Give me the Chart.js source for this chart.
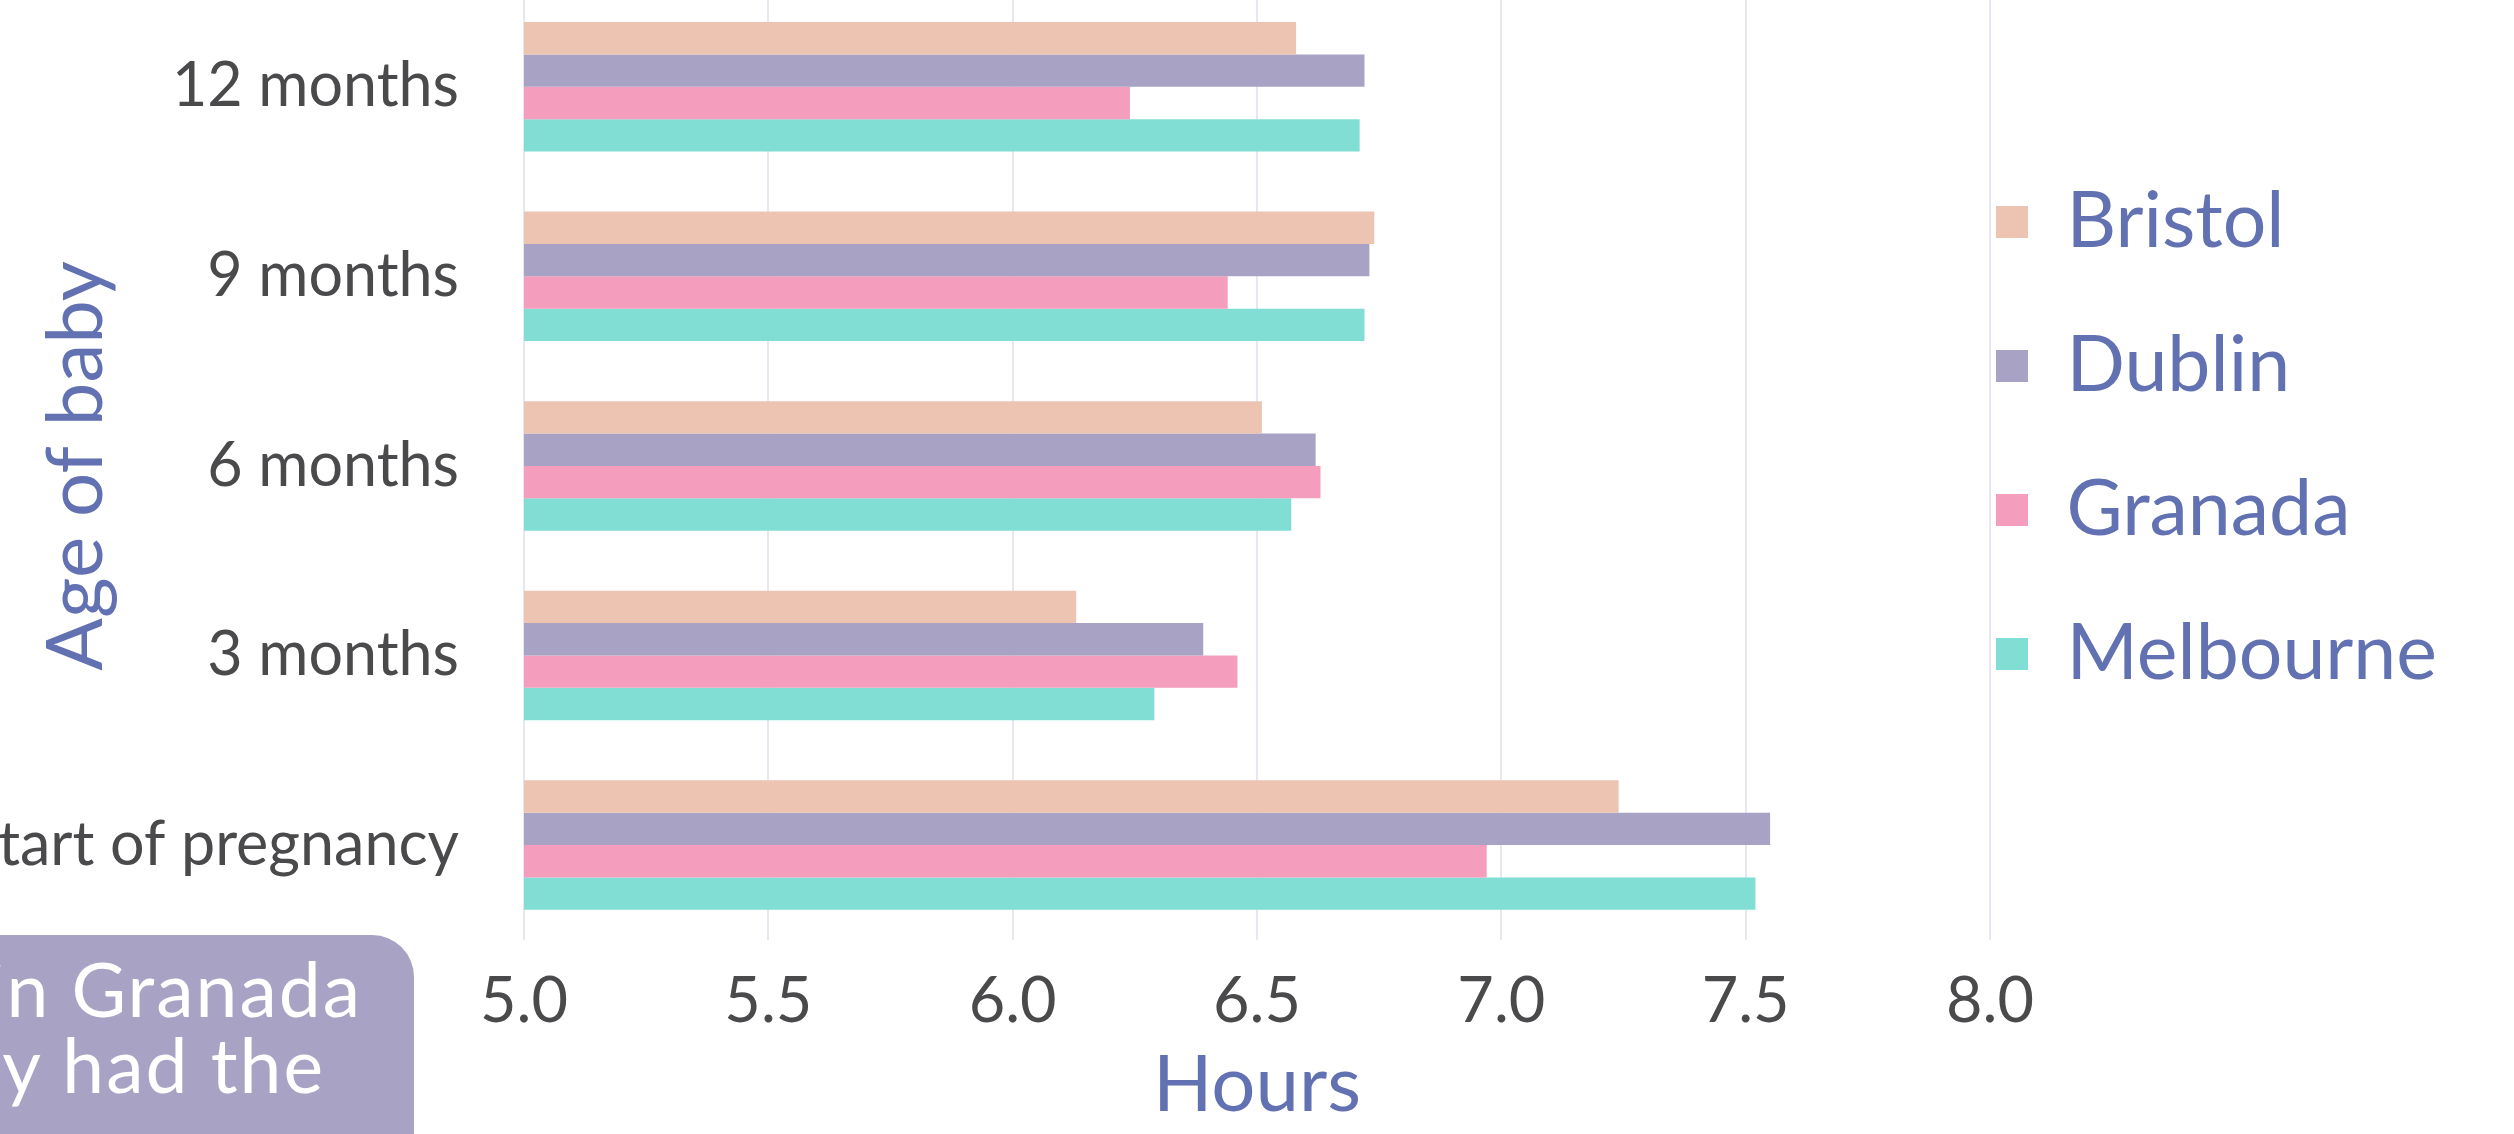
<!DOCTYPE html>
<html>
<head>
<meta charset="utf-8">
<title>Hours of sleep by age of baby</title>
<script src="https://cdn.jsdelivr.net/npm/chart.js@4.4.1/dist/chart.umd.min.js"></script>
<style>
  html, body { margin: 0; padding: 0; background: #fff; overflow: hidden; }
  body { width: 2514px; height: 1134px; position: relative; font-family: 'Lato', sans-serif; }
  #wrap { position: absolute; left: 0; top: -8px; width: 2514px; height: 1144px; }
  #note {
    position: absolute; left: -600px; top: 935px; width: 1014px; height: 400px;
    background: #a8a2c4; border-radius: 42px; color: #fff;
    font-size: 75px; line-height: 76px; letter-spacing: 2px;
    padding-top: 15px; box-sizing: border-box;
  }
  #note div { text-align: right; white-space: nowrap; }
</style>
</head>
<body>
<div id="wrap"><canvas id="plot"></canvas></div>
<div id="note">
  <div style="padding-right:52px">Mothers in Granada</div>
  <div style="padding-right:89px">consistently had the</div>
  <div style="padding-right:60px;margin-top:34px">least sleep</div>
</div>
<script>
const ageLabels = ['12 months', '9 months', '6 months', '3 months', 'Start of pregnancy']
const cityNames = ['Bristol', 'Dublin', 'Granada', 'Melbourne']
const bristol = [6.58, 6.74, 6.51, 6.13, 7.24]
const dublin = [6.72, 6.73, 6.62, 6.39, 7.55]
const granada = [6.24, 6.44, 6.63, 6.46, 6.97]
const melbourne = [6.71, 6.72, 6.57, 6.29, 7.52]
const cityColors = ['#edc3b2', '#a8a2c4', '#f59dbd', '#80ded4']
const hoursMin = 5.0
const hoursMax = 8.0
const hoursStep = 0.5

const titleColor = '#6171b2'
const tickColor = '#4a4a4c'

Chart.defaults.font.family = 'Lato'

// puts the legend right next to the plot and lifts it a little
const legendNudge = {
    id: 'legendNudge',
    afterLayout (chart, args, opts) {
        const lg = chart.legend
        lg.left = chart.chartArea.right + opts.gap - lg.options.labels.padding
        lg.top += opts.dy
        lg.bottom += opts.dy
    }
}

const seriesValues = [bristol, dublin, granada, melbourne]

const config = {
    type: 'bar',
    data: {
        labels: ageLabels,
        datasets: cityNames.map((name, i) => ({
            label: name,
            data: seriesValues[i],
            backgroundColor: cityColors[i],
            borderWidth: 0,
            categoryPercentage: 0.683,
            barPercentage: 1.0
        }))
    },
    options: {
        indexAxis: 'y',
        responsive: true,
        maintainAspectRatio: false,
        animation: false,
        layout: { padding: { top: 0, right: 24, bottom: 0, left: 0 } },
        plugins: {
            legend: {
                position: 'right',
                fullSize: false,
                maxWidth: 500,
                labels: {
                    color: titleColor,
                    boxWidth: 32,
                    boxHeight: 32,
                    padding: 67,
                    font: { size: 77 }
                }
            },
            legendNudge: { gap: 6, dy: -28 },
            tooltip: { enabled: false }
        },
        scales: {
            x: {
                type: 'linear',
                min: hoursMin,
                max: hoursMax,
                border: { display: false },
                grid: {
                    color: '#e7e7f1',
                    lineWidth: 2,
                    drawTicks: true,
                    tickLength: 24,
                    tickColor: 'rgba(0,0,0,0)'
                },
                ticks: {
                    stepSize: hoursStep,
                    padding: 0,
                    color: tickColor,
                    font: { size: 63 },
                    callback: (v) => Number(v).toFixed(1)
                },
                title: {
                    display: true,
                    text: 'Hours',
                    color: titleColor,
                    font: { size: 78 },
                    padding: { top: 0, bottom: 3 }
                }
            },
            y: {
                border: { display: false },
                grid: { display: false, drawTicks: false },
                ticks: {
                    padding: 65,
                    color: tickColor,
                    font: { size: 61 }
                },
                title: {
                    display: true,
                    text: 'Age of baby',
                    color: titleColor,
                    font: { size: 78 },
                    padding: { top: 30, bottom: 0 }
                },
                afterFit: (scale) => {
                    scale.width = 524
                    scale.paddingTop = 0
                    scale.paddingBottom = 0
                }
            }
        }
    },
    plugins: [legendNudge]
}

const chart = new Chart(document.getElementById('plot'), config)
</script>
</body>
</html>
